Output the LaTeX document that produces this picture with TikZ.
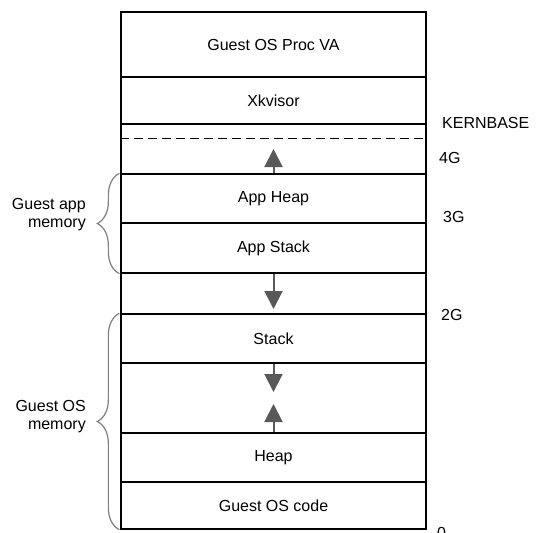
\documentclass[tikz,border=0pt]{standalone}
\usepackage{fontspec}
\setmainfont{Liberation Sans}
\usetikzlibrary{arrows.meta,decorations.pathreplacing}

\definecolor{arrowgray}{HTML}{595959}
\definecolor{bracegray}{HTML}{7F7F7F}

\begin{document}
\begin{tikzpicture}[x=1pt,y=-1pt,
    region/.style={draw, line width=1.3pt, minimum width=305pt, inner sep=0pt,
      font=\fontsize{16}{18}\selectfont},
    growarrow/.style={draw=arrowgray, line width=2pt, -{Triangle[width=18pt,length=18pt]}},
    memspan/.style={draw=bracegray, line width=1.2pt, decorate,
      decoration={brace, amplitude=22pt}},
    memlabel/.style={anchor=east, align=right, inner sep=0pt,
      font=\fontsize{16}{18}\selectfont},
    addr/.style={anchor=west, inner sep=0pt, font=\fontsize{16}{18}\selectfont}]
  \useasboundingbox (0,0) rectangle (536,533);

  % Draw the address space, one region per row
  \foreach \name/\top/\bot/\txt in {procva/12/77/Guest OS Proc VA,
      xkvisor/77/124/Xkvisor, gapk/124/174/, appheap/174/223/App Heap,
      appstack/223/273/App Stack, gapa/273/314/, stack/314/363/Stack,
      gaps/363/433/, heap/433/482/Heap, oscode/482/529/Guest OS code} {
    \node[region, minimum height=\bot-\top] (\name) at (273.5,{(\top+\bot)/2}) {\txt};
  }

  % KERNBASE boundary
  \draw[line width=1.2pt, dash pattern=on 9pt off 5pt]
    ([yshift=-15pt]gapk.north west) -- ([yshift=-15pt]gapk.north east);

  % Growth arrows
  \coordinate (apphigh) at (273.5,149);
  \coordinate (applow) at (273.5,309);
  \coordinate (stacklow) at (273.5,392);
  \coordinate (heaphigh) at (273.5,404);
  \draw[growarrow] (appheap.north) -- (apphigh);
  \draw[growarrow] (appstack.south) -- (applow);
  \draw[growarrow] (stack.south) -- (stacklow);
  \draw[growarrow] (heap.north) -- (heaphigh);

  % Braces and their labels
  \draw[memspan] ([xshift=-1pt]appstack.south west) -- ([xshift=-1pt]appheap.north west);
  \draw[memspan] ([xshift=-1pt]oscode.south west) -- ([xshift=-1pt]stack.north west);
  \node[memlabel] (applabel) at (86,215) {Guest app\\memory};
  \node[memlabel] (oslabel) at (86,416.5) {Guest OS\\memory};

  % Addresses on the right
  \node[addr] (kernbase) at (442,123) {KERNBASE};
  \node[addr] (four) at (439,158) {4G};
  \node[addr] (three) at (443,217) {3G};
  \node[addr] (two) at (441,315) {2G};
  \node[addr] (zero) at (437,533) {0};
\end{tikzpicture}
\end{document}
